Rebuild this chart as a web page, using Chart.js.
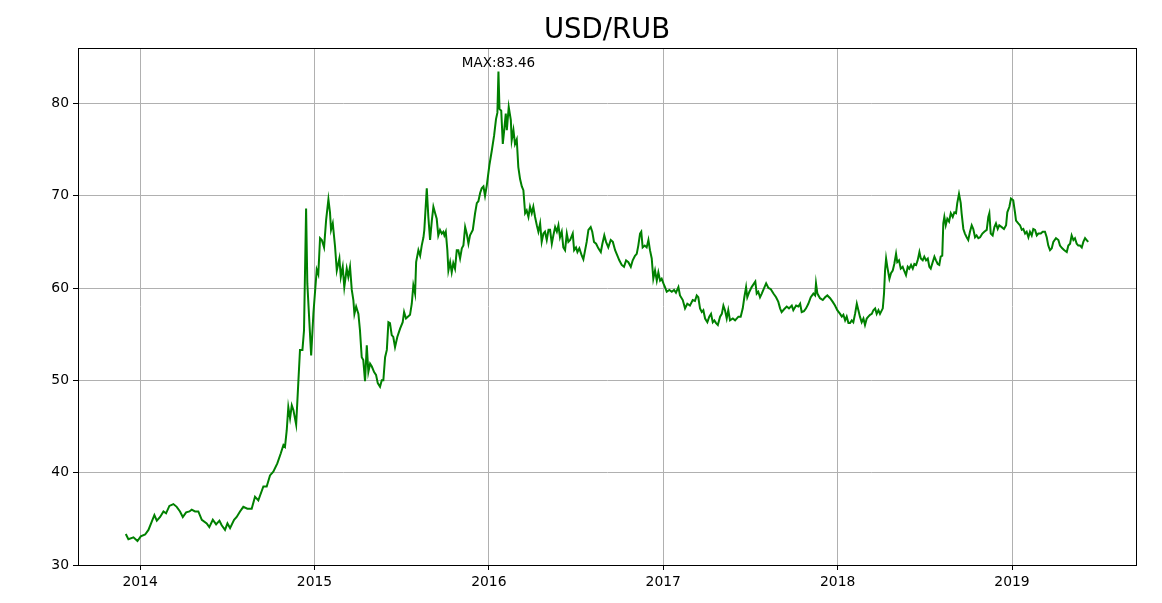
<!DOCTYPE html>
<html>
<head>
<meta charset="utf-8">
<title>USD/RUB</title>
<script src="https://cdn.jsdelivr.net/npm/chart.js@4"></script>
<style>
    body { margin: 0; background: #fff; }
    #wrap { width: 1162px; height: 603px; position: relative; }
</style>
</head>
<body>
<div id="wrap"><canvas id="rateChart"></canvas></div>
<script>
// --- DATA ---
const chartTitle = 'USD/RUB';

// time as decimal years
const years = [
    2013.918, 2013.933, 2013.962, 2013.985, 2014.004, 2014.029, 2014.048, 2014.067, 2014.082, 2014.096,
    2014.115, 2014.134, 2014.149, 2014.168, 2014.191, 2014.210, 2014.229, 2014.245, 2014.264, 2014.283,
    2014.296, 2014.315, 2014.334, 2014.354, 2014.382, 2014.397, 2014.417, 2014.436, 2014.455, 2014.468,
    2014.487, 2014.501, 2014.516, 2014.539, 2014.554, 2014.573, 2014.592, 2014.615, 2014.640, 2014.659,
    2014.678, 2014.707, 2014.726, 2014.745, 2014.764, 2014.787, 2014.807, 2014.822, 2014.831, 2014.841,
    2014.850, 2014.860, 2014.870, 2014.879, 2014.895, 2014.908, 2014.917, 2014.931, 2014.940, 2014.952,
    2014.959, 2014.981, 2014.994, 2015.013, 2015.022, 2015.032, 2015.042, 2015.055, 2015.067, 2015.080,
    2015.089, 2015.095, 2015.105, 2015.118, 2015.128, 2015.143, 2015.151, 2015.162, 2015.171, 2015.185,
    2015.194, 2015.204, 2015.214, 2015.223, 2015.229, 2015.239, 2015.252, 2015.261, 2015.271, 2015.280,
    2015.290, 2015.300, 2015.309, 2015.319, 2015.329, 2015.342, 2015.353, 2015.363, 2015.376, 2015.386,
    2015.395, 2015.405, 2015.415, 2015.424, 2015.433, 2015.443, 2015.452, 2015.462, 2015.475, 2015.491,
    2015.506, 2015.514, 2015.525, 2015.548, 2015.558, 2015.567, 2015.577, 2015.583, 2015.596, 2015.606,
    2015.615, 2015.625, 2015.630, 2015.644, 2015.653, 2015.663, 2015.673, 2015.682, 2015.692, 2015.701,
    2015.710, 2015.720, 2015.730, 2015.739, 2015.745, 2015.753, 2015.762, 2015.768, 2015.778, 2015.787,
    2015.796, 2015.806, 2015.816, 2015.825, 2015.835, 2015.845, 2015.854, 2015.864, 2015.873, 2015.883,
    2015.892, 2015.908, 2015.921, 2015.931, 2015.940, 2015.950, 2015.959, 2015.969, 2015.978, 2015.988,
    2016.003, 2016.017, 2016.030, 2016.041, 2016.049, 2016.055, 2016.061, 2016.071, 2016.080, 2016.088,
    2016.097, 2016.103, 2016.114, 2016.126, 2016.131, 2016.141, 2016.150, 2016.160, 2016.169, 2016.179,
    2016.189, 2016.198, 2016.208, 2016.217, 2016.227, 2016.236, 2016.246, 2016.255, 2016.265, 2016.275,
    2016.284, 2016.294, 2016.303, 2016.313, 2016.322, 2016.332, 2016.342, 2016.351, 2016.361, 2016.370,
    2016.380, 2016.390, 2016.399, 2016.408, 2016.418, 2016.427, 2016.437, 2016.447, 2016.456, 2016.466,
    2016.481, 2016.489, 2016.500, 2016.508, 2016.519, 2016.533, 2016.542, 2016.552, 2016.561, 2016.571,
    2016.584, 2016.593, 2016.603, 2016.615, 2016.628, 2016.642, 2016.651, 2016.662, 2016.672, 2016.685,
    2016.699, 2016.711, 2016.724, 2016.737, 2016.748, 2016.762, 2016.775, 2016.787, 2016.800, 2016.814,
    2016.825, 2016.838, 2016.848, 2016.857, 2016.867, 2016.874, 2016.882, 2016.894, 2016.905, 2016.915,
    2016.924, 2016.934, 2016.943, 2016.953, 2016.963, 2016.972, 2016.982, 2016.991, 2017.001, 2017.010,
    2017.020, 2017.035, 2017.049, 2017.062, 2017.073, 2017.087, 2017.096, 2017.112, 2017.125, 2017.138,
    2017.153, 2017.169, 2017.182, 2017.192, 2017.201, 2017.211, 2017.221, 2017.230, 2017.240, 2017.253,
    2017.264, 2017.274, 2017.284, 2017.293, 2017.303, 2017.313, 2017.326, 2017.336, 2017.345, 2017.354,
    2017.364, 2017.373, 2017.383, 2017.399, 2017.412, 2017.431, 2017.444, 2017.456, 2017.465, 2017.475,
    2017.482, 2017.494, 2017.507, 2017.521, 2017.528, 2017.536, 2017.545, 2017.555, 2017.565, 2017.574,
    2017.590, 2017.603, 2017.616, 2017.632, 2017.647, 2017.660, 2017.670, 2017.679, 2017.693, 2017.708,
    2017.721, 2017.737, 2017.746, 2017.762, 2017.775, 2017.785, 2017.794, 2017.807, 2017.819, 2017.832,
    2017.846, 2017.861, 2017.871, 2017.876, 2017.884, 2017.899, 2017.915, 2017.928, 2017.941, 2017.957,
    2017.972, 2017.985, 2017.998, 2018.014, 2018.024, 2018.033, 2018.043, 2018.052, 2018.062, 2018.071,
    2018.081, 2018.090, 2018.100, 2018.110, 2018.119, 2018.128, 2018.138, 2018.148, 2018.157, 2018.167,
    2018.176, 2018.186, 2018.196, 2018.205, 2018.215, 2018.224, 2018.234, 2018.243, 2018.259, 2018.266,
    2018.272, 2018.278, 2018.285, 2018.297, 2018.306, 2018.316, 2018.325, 2018.335, 2018.342, 2018.352,
    2018.362, 2018.373, 2018.381, 2018.392, 2018.402, 2018.411, 2018.421, 2018.431, 2018.440, 2018.450,
    2018.459, 2018.469, 2018.477, 2018.488, 2018.497, 2018.507, 2018.517, 2018.526, 2018.534, 2018.545,
    2018.555, 2018.564, 2018.574, 2018.583, 2018.591, 2018.600, 2018.606, 2018.612, 2018.620, 2018.629,
    2018.639, 2018.649, 2018.660, 2018.669, 2018.679, 2018.686, 2018.696, 2018.706, 2018.711, 2018.721,
    2018.730, 2018.740, 2018.749, 2018.759, 2018.769, 2018.778, 2018.788, 2018.797, 2018.807, 2018.817,
    2018.830, 2018.841, 2018.855, 2018.864, 2018.870, 2018.878, 2018.889, 2018.899, 2018.908, 2018.918,
    2018.927, 2018.941, 2018.954, 2018.966, 2018.973, 2018.985, 2018.994, 2019.007, 2019.017, 2019.023,
    2019.036, 2019.046, 2019.056, 2019.065, 2019.075, 2019.084, 2019.094, 2019.103, 2019.113, 2019.122,
    2019.132, 2019.142, 2019.151, 2019.165, 2019.176, 2019.189, 2019.199, 2019.208, 2019.218, 2019.228,
    2019.237, 2019.252, 2019.266, 2019.275, 2019.288, 2019.300, 2019.314, 2019.323, 2019.333, 2019.342,
    2019.352, 2019.361, 2019.371, 2019.380, 2019.390, 2019.400, 2019.409, 2019.419, 2019.428, 2019.437
];

// RUB per USD
const rates = [
    33.35, 32.8, 33.0, 32.6, 33.1, 33.3, 33.8, 34.7, 35.4, 34.8,
    35.2, 35.8, 35.6, 36.4, 36.6, 36.3, 35.8, 35.2, 35.7, 35.8,
    36.0, 35.8, 35.8, 34.9, 34.5, 34.1, 34.9, 34.4, 34.8, 34.3,
    33.8, 34.5, 34.0, 34.9, 35.2, 35.8, 36.3, 36.1, 36.1, 37.4,
    37.0, 38.5, 38.5, 39.7, 40.1, 41.0, 42.1, 43.0, 42.8, 44.6,
    47.1, 45.9, 47.3, 46.8, 45.2, 50.0, 53.3, 53.3, 55.4, 68.6,
    60.5, 52.7, 57.3, 62.0, 61.5, 65.4, 65.2, 64.4, 67.4, 69.6,
    68.2, 66.3, 67.0, 64.5, 61.9, 63.2, 61.2, 62.3, 60.1, 62.1,
    61.2, 62.3, 59.8, 58.7, 57.2, 58.0, 57.2, 55.4, 52.5, 52.2,
    49.9, 53.8, 50.9, 51.8, 51.5, 50.9, 50.6, 49.7, 49.3, 50.0,
    50.0, 52.5, 53.3, 56.3, 56.2, 54.9, 54.7, 53.6, 54.7, 55.6,
    56.3, 57.4, 56.7, 57.1, 58.3, 60.3, 59.4, 62.8, 64.1, 63.5,
    64.6, 65.5, 66.3, 70.8, 67.7, 65.2, 67.3, 68.8, 68.1, 67.5,
    65.7, 66.3, 65.9, 66.1, 65.7, 66.1, 64.1, 61.9, 62.8, 61.7,
    62.7, 62.1, 64.1, 64.1, 63.2, 64.3, 64.6, 66.6, 65.9, 64.8,
    65.7, 66.3, 68.1, 69.2, 69.4, 70.3, 70.8, 71.0, 70.0, 71.1,
    73.3, 74.9, 76.5, 78.3, 79.0, 83.46, 79.4, 79.2, 75.6, 77.1,
    78.9, 77.1, 79.6, 78.2, 76.0, 77.1, 75.6, 76.1, 73.1, 71.8,
    71.0, 70.6, 68.1, 68.4, 67.7, 68.8, 68.1, 68.8, 67.7, 66.8,
    66.1, 67.0, 65.0, 65.9, 66.1, 65.2, 66.3, 66.3, 64.8, 65.7,
    66.6, 66.1, 66.8, 65.5, 66.1, 64.4, 64.1, 65.9, 65.0, 65.2,
    65.9, 64.1, 64.4, 63.9, 64.3, 63.5, 63.1, 64.1, 65.0, 66.3,
    66.6, 66.1, 65.0, 64.8, 64.3, 63.9, 64.8, 65.7, 65.0, 64.4,
    65.2, 65.0, 64.1, 63.5, 63.0, 62.5, 62.3, 63.0, 62.8, 62.3,
    63.0, 63.5, 63.7, 64.6, 65.9, 66.1, 64.4, 64.6, 64.4, 65.2,
    64.1, 63.2, 61.0, 61.9, 60.8, 61.7, 60.8, 61.0, 60.5, 60.1,
    59.6, 59.8, 59.6, 59.8, 59.5, 60.1, 59.2, 58.7, 57.8, 58.3,
    58.1, 58.7, 58.6, 59.2, 59.0, 57.8, 57.4, 57.6, 56.7, 56.3,
    56.9, 57.2, 56.3, 56.5, 56.2, 56.0, 56.9, 57.2, 58.1, 57.6,
    56.7, 57.6, 56.5, 56.7, 56.5, 56.9, 56.9, 57.8, 59.0, 60.1,
    59.0, 59.6, 60.1, 60.5, 60.7, 59.4, 59.6, 59.0, 59.4, 59.8,
    60.5, 60.0, 59.9, 59.4, 59.0, 58.5, 57.8, 57.4, 57.7, 58.0,
    57.8, 58.1, 57.6, 58.1, 58.0, 58.3, 57.4, 57.5, 57.8, 58.3,
    59.0, 59.4, 59.2, 60.5, 59.4, 58.9, 58.7, 59.0, 59.2, 58.9,
    58.5, 58.1, 57.6, 57.2, 56.9, 57.1, 56.5, 56.9, 56.2, 56.2,
    56.5, 56.3, 57.2, 58.3, 57.6, 56.9, 56.3, 56.7, 56.0, 56.7,
    56.9, 57.1, 57.2, 57.6, 57.8, 57.2, 57.6, 57.2, 57.8, 59.4,
    61.9, 63.2, 62.3, 61.0, 61.6, 61.9, 62.6, 63.7, 62.8, 63.0,
    62.1, 62.3, 61.9, 61.4, 62.3, 62.1, 62.5, 62.1, 62.6, 62.5,
    63.0, 63.9, 63.2, 63.0, 63.4, 63.0, 63.2, 62.3, 62.1, 62.8,
    63.4, 63.0, 62.6, 62.5, 63.4, 63.5, 67.0, 67.7, 66.8, 67.5,
    67.2, 68.1, 67.7, 68.2, 68.1, 69.2, 70.2, 69.2, 68.1, 66.4,
    65.9, 65.5, 65.2, 66.1, 66.8, 66.4, 65.5, 65.7, 65.4, 65.5,
    65.9, 66.1, 66.3, 67.7, 68.1, 65.9, 65.7, 66.6, 67.0, 66.4,
    66.8, 66.6, 66.4, 66.8, 68.2, 68.8, 69.7, 69.5, 68.2, 67.3,
    67.0, 66.8, 66.3, 66.4, 65.9, 66.1, 65.5, 66.1, 65.7, 66.4,
    66.3, 65.7, 65.9, 65.9, 66.1, 66.1, 65.5, 64.6, 64.1, 64.3,
    65.0, 65.4, 65.2, 64.6, 64.3, 64.1, 63.9, 64.6, 64.8, 65.7,
    65.2, 65.4, 64.8, 64.6, 64.6, 64.4, 65.0, 65.4, 65.2, 65.0
];

const xTicks = [2014, 2015, 2016, 2017, 2018, 2019];
const yTicks = [30, 40, 50, 60, 70, 80];
const xRange = [2013.644, 2019.711];
const yRange = [30, 86];

// --- HELPERS ---
const FONT = "'DejaVu Sans', sans-serif";

const points = years.map((x, i) => ({ x: x, y: rates[i] }));
const maxIdx = rates.indexOf(Math.max(...rates));

// box round the plot, title above it and MAX label at the peak
const framePlugin = {
    id: 'frame',
    afterDraw(chart) {
        const { ctx, chartArea: a, scales } = chart;
        ctx.save();
        ctx.strokeStyle = '#000';
        ctx.lineWidth = 1;
        ctx.strokeRect(Math.round(a.left) + 0.5, Math.round(a.top) + 0.5,
            Math.round(a.right - a.left), Math.round(a.bottom - a.top));

        ctx.fillStyle = '#000';
        ctx.textAlign = 'center';
        ctx.textBaseline = 'alphabetic';
        ctx.font = '27.5px ' + FONT;
        ctx.fillText(chartTitle, (a.left + a.right) / 2, a.top - 10);

        const px = scales.x.getPixelForValue(years[maxIdx]);
        const py = scales.y.getPixelForValue(rates[maxIdx]);
        ctx.font = '13.5px ' + FONT;
        ctx.fillText('MAX:' + rates[maxIdx].toFixed(2), px, py - 4.5);
        ctx.restore();
    }
};

// --- CHART ---
new Chart(document.getElementById('rateChart'), {
    type: 'line',
    data: {
        datasets: [{
            label: chartTitle,
            data: points,
            borderColor: '#008000',
            borderWidth: 2,
            pointRadius: 0,
            tension: 0,
            fill: false
        }]
    },
    options: {
        responsive: true,
        maintainAspectRatio: false,
        animation: false,
        layout: { padding: { top: 48, right: 26, left: 0, bottom: 0 } },
        plugins: {
            legend: { display: false },
            title: { display: false },
            tooltip: { enabled: false }
        },
        scales: {
            x: {
                type: 'linear',
                min: xRange[0],
                max: xRange[1],
                afterBuildTicks: s => { s.ticks = xTicks.map(v => ({ value: v })); },
                afterFit: s => { s.height = 38; },
                grid: { color: '#b0b0b0', lineWidth: 1, tickColor: '#000', tickLength: 5 },
                border: { color: '#000', width: 1 },
                ticks: {
                    color: '#000',
                    font: { family: FONT, size: 13.9 },
                    padding: 4,
                    maxRotation: 0,
                    callback: v => String(v)
                }
            },
            y: {
                type: 'linear',
                min: yRange[0],
                max: yRange[1],
                afterBuildTicks: s => { s.ticks = yTicks.map(v => ({ value: v })); },
                afterFit: s => { s.width = 78; },
                grid: { color: '#b0b0b0', lineWidth: 1, tickColor: '#000', tickLength: 5 },
                border: { color: '#000', width: 1 },
                ticks: {
                    color: '#000',
                    font: { family: FONT, size: 13.9 },
                    padding: 4,
                    callback: v => String(v)
                }
            }
        }
    },
    plugins: [framePlugin]
});
</script>
</body>
</html>
